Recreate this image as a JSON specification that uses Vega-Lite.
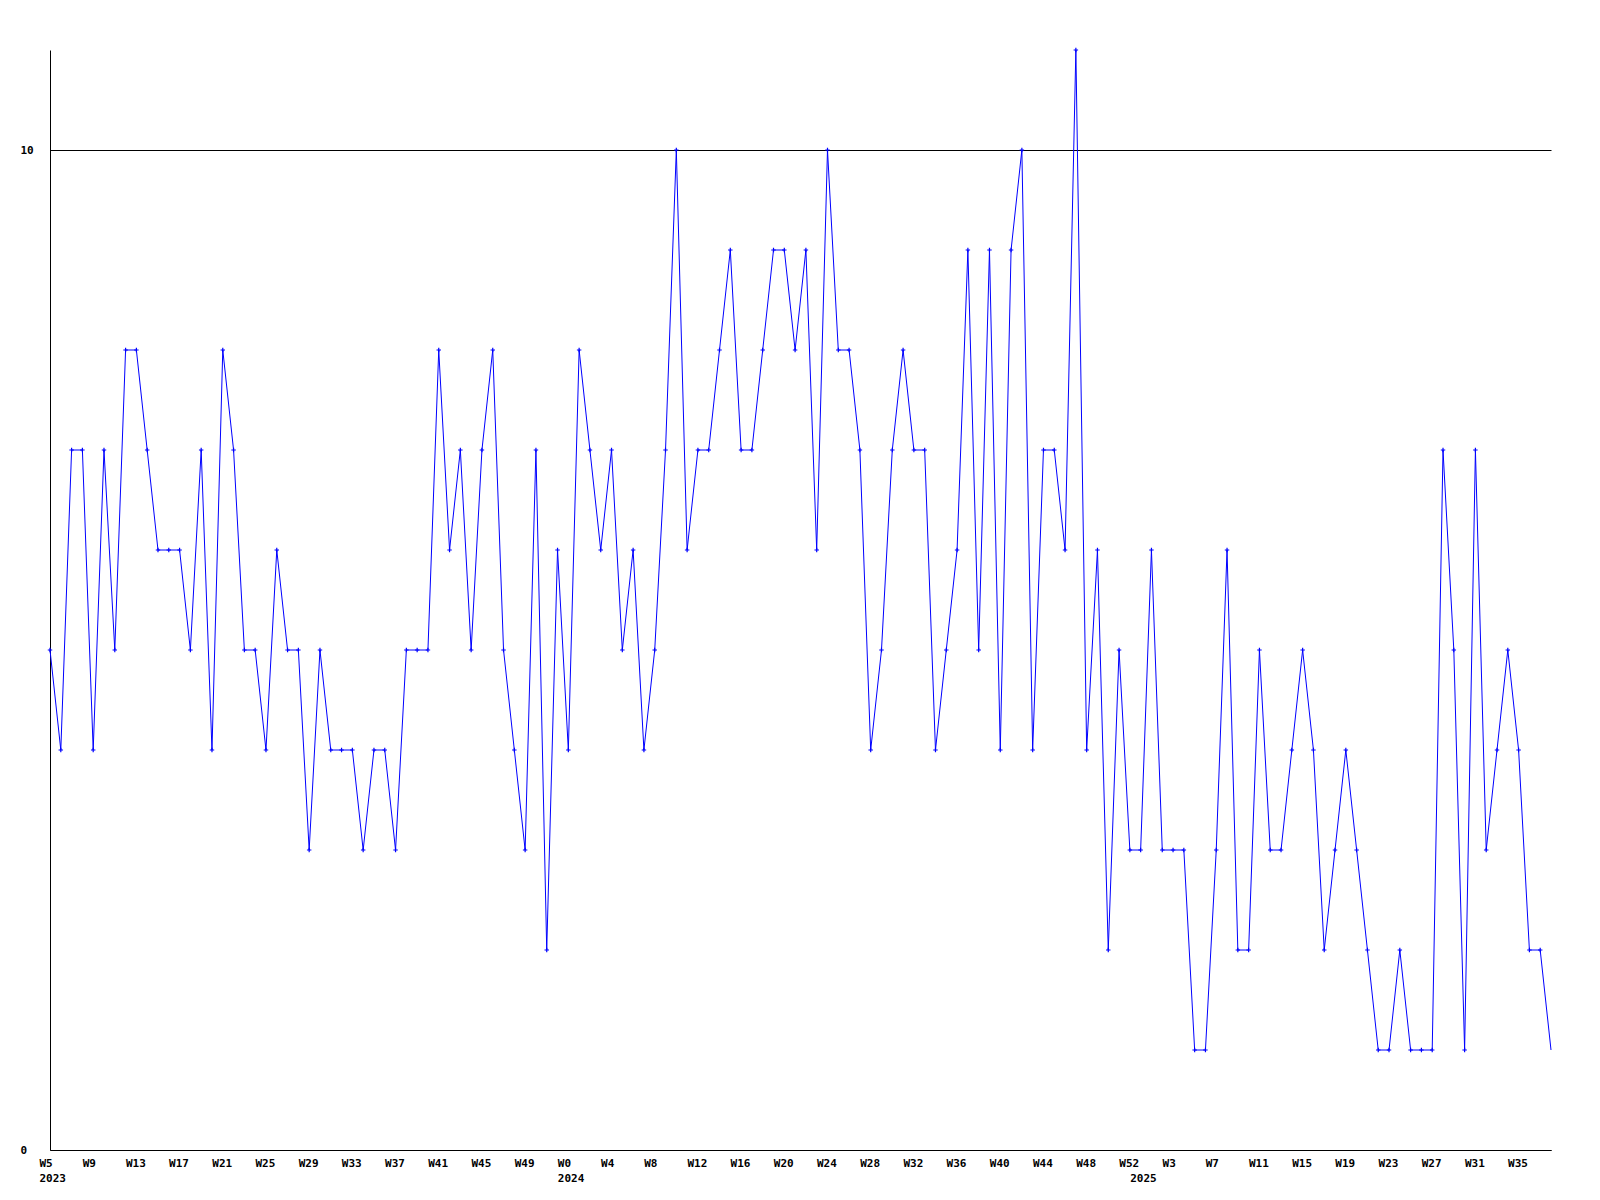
{
  "$schema": "https://vega.github.io/schema/vega-lite/v6.json",
  "width": 1501,
  "height": 1100,
  "autosize": {"type": "none"},
  "padding": {"left": 50, "top": 50, "right": 49, "bottom": 50},
  "background": "white",
  "config": {"view": {"stroke": null}},
  "data": {"values": [
    {"wk":"2023-W05","v":5},{"wk":"2023-W06","v":4},{"wk":"2023-W07","v":7},{"wk":"2023-W08","v":7},{"wk":"2023-W09","v":4},
    {"wk":"2023-W10","v":7},{"wk":"2023-W11","v":5},{"wk":"2023-W12","v":8},{"wk":"2023-W13","v":8},{"wk":"2023-W14","v":7},
    {"wk":"2023-W15","v":6},{"wk":"2023-W16","v":6},{"wk":"2023-W17","v":6},{"wk":"2023-W18","v":5},{"wk":"2023-W19","v":7},
    {"wk":"2023-W20","v":4},{"wk":"2023-W21","v":8},{"wk":"2023-W22","v":7},{"wk":"2023-W23","v":5},{"wk":"2023-W24","v":5},
    {"wk":"2023-W25","v":4},{"wk":"2023-W26","v":6},{"wk":"2023-W27","v":5},{"wk":"2023-W28","v":5},{"wk":"2023-W29","v":3},
    {"wk":"2023-W30","v":5},{"wk":"2023-W31","v":4},{"wk":"2023-W32","v":4},{"wk":"2023-W33","v":4},{"wk":"2023-W34","v":3},
    {"wk":"2023-W35","v":4},{"wk":"2023-W36","v":4},{"wk":"2023-W37","v":3},{"wk":"2023-W38","v":5},{"wk":"2023-W39","v":5},
    {"wk":"2023-W40","v":5},{"wk":"2023-W41","v":8},{"wk":"2023-W42","v":6},{"wk":"2023-W43","v":7},{"wk":"2023-W44","v":5},
    {"wk":"2023-W45","v":7},{"wk":"2023-W46","v":8},{"wk":"2023-W47","v":5},{"wk":"2023-W48","v":4},{"wk":"2023-W49","v":3},
    {"wk":"2023-W50","v":7},{"wk":"2023-W51","v":2},{"wk":"2023-W52","v":6},
    {"wk":"2024-W00","v":4},{"wk":"2024-W01","v":8},{"wk":"2024-W02","v":7},{"wk":"2024-W03","v":6},{"wk":"2024-W04","v":7},
    {"wk":"2024-W05","v":5},{"wk":"2024-W06","v":6},{"wk":"2024-W07","v":4},{"wk":"2024-W08","v":5},{"wk":"2024-W09","v":7},
    {"wk":"2024-W10","v":10},{"wk":"2024-W11","v":6},{"wk":"2024-W12","v":7},{"wk":"2024-W13","v":7},{"wk":"2024-W14","v":8},
    {"wk":"2024-W15","v":9},{"wk":"2024-W16","v":7},{"wk":"2024-W17","v":7},{"wk":"2024-W18","v":8},{"wk":"2024-W19","v":9},
    {"wk":"2024-W20","v":9},{"wk":"2024-W21","v":8},{"wk":"2024-W22","v":9},{"wk":"2024-W23","v":6},{"wk":"2024-W24","v":10},
    {"wk":"2024-W25","v":8},{"wk":"2024-W26","v":8},{"wk":"2024-W27","v":7},{"wk":"2024-W28","v":4},{"wk":"2024-W29","v":5},
    {"wk":"2024-W30","v":7},{"wk":"2024-W31","v":8},{"wk":"2024-W32","v":7},{"wk":"2024-W33","v":7},{"wk":"2024-W34","v":4},
    {"wk":"2024-W35","v":5},{"wk":"2024-W36","v":6},{"wk":"2024-W37","v":9},{"wk":"2024-W38","v":5},{"wk":"2024-W39","v":9},
    {"wk":"2024-W40","v":4},{"wk":"2024-W41","v":9},{"wk":"2024-W42","v":10},{"wk":"2024-W43","v":4},{"wk":"2024-W44","v":7},
    {"wk":"2024-W45","v":7},{"wk":"2024-W46","v":6},{"wk":"2024-W47","v":11},{"wk":"2024-W48","v":4},{"wk":"2024-W49","v":6},
    {"wk":"2024-W50","v":2},{"wk":"2024-W51","v":5},{"wk":"2024-W52","v":3},
    {"wk":"2025-W00","v":3},{"wk":"2025-W01","v":6},{"wk":"2025-W02","v":3},{"wk":"2025-W03","v":3},{"wk":"2025-W04","v":3},
    {"wk":"2025-W05","v":1},{"wk":"2025-W06","v":1},{"wk":"2025-W07","v":3},{"wk":"2025-W08","v":6},{"wk":"2025-W09","v":2},
    {"wk":"2025-W10","v":2},{"wk":"2025-W11","v":5},{"wk":"2025-W12","v":3},{"wk":"2025-W13","v":3},{"wk":"2025-W14","v":4},
    {"wk":"2025-W15","v":5},{"wk":"2025-W16","v":4},{"wk":"2025-W17","v":2},{"wk":"2025-W18","v":3},{"wk":"2025-W19","v":4},
    {"wk":"2025-W20","v":3},{"wk":"2025-W21","v":2},{"wk":"2025-W22","v":1},{"wk":"2025-W23","v":1},{"wk":"2025-W24","v":2},
    {"wk":"2025-W25","v":1},{"wk":"2025-W26","v":1},{"wk":"2025-W27","v":1},{"wk":"2025-W28","v":7},{"wk":"2025-W29","v":5},
    {"wk":"2025-W30","v":1},{"wk":"2025-W31","v":7},{"wk":"2025-W32","v":3},{"wk":"2025-W33","v":4},{"wk":"2025-W34","v":5},
    {"wk":"2025-W35","v":4},{"wk":"2025-W36","v":2},{"wk":"2025-W37","v":2},{"wk":"2025-W38","v":1}
  ]},
  "encoding": {
    "x": {
      "field": "wk", "type": "ordinal", "sort": null,
      "scale": {"type": "point", "padding": 0},
      "axis": {
        "title": null,
        "values": ["2023-W05","2023-W09","2023-W13","2023-W17","2023-W21","2023-W25","2023-W29","2023-W33","2023-W37","2023-W41","2023-W45","2023-W49",
                   "2024-W00","2024-W04","2024-W08","2024-W12","2024-W16","2024-W20","2024-W24","2024-W28","2024-W32","2024-W36","2024-W40","2024-W44","2024-W48","2024-W52",
                   "2025-W00","2025-W03","2025-W07","2025-W11","2025-W15","2025-W19","2025-W23","2025-W27","2025-W31","2025-W35"],
        "labelExpr": "datum.value == '2023-W05' ? ['W5','2023'] : datum.value == '2024-W00' ? ['W0','2024'] : datum.value == '2025-W00' ? ['','2025'] : 'W' + toNumber(substring(datum.value, 6, 8))",
        "ticks": false, "grid": false,
        "domainColor": "black", "domainWidth": 1,
        "labelAngle": 0, "labelAlign": "left", "labelOffset": -11, "labelBaseline": "top",
        "labelPadding": 7, "labelLineHeight": 15,
        "labelFont": "DejaVu Sans Mono", "labelFontWeight": "bold", "labelFontSize": 11, "labelColor": "black",
        "labelOverlap": false, "labelBound": false, "labelFlush": false
      }
    },
    "y": {
      "field": "v", "type": "quantitative",
      "scale": {"domain": [0, 11], "nice": false},
      "axis": {
        "title": null, "values": [0, 10],
        "grid": true, "gridColor": "black", "gridOpacity": 1, "gridWidth": 1,
        "ticks": false, "domainColor": "black", "domainWidth": 1,
        "labelAlign": "left", "labelBaseline": "middle", "labelPadding": 30,
        "labelFont": "DejaVu Sans Mono", "labelFontWeight": "bold", "labelFontSize": 11, "labelColor": "black"
      }
    }
  },
  "layer": [
    {"mark": {"type": "line", "color": "#0000ff", "strokeWidth": 1}},
    {
      "transform": [{"filter": "datum.wk != '2025-W38'"}],
      "mark": {"type": "point", "shape": "M-1,0H1M0,-1V1", "filled": false, "stroke": "#0000ff", "strokeWidth": 1.2, "size": 20, "opacity": 1}
    }
  ]
}
